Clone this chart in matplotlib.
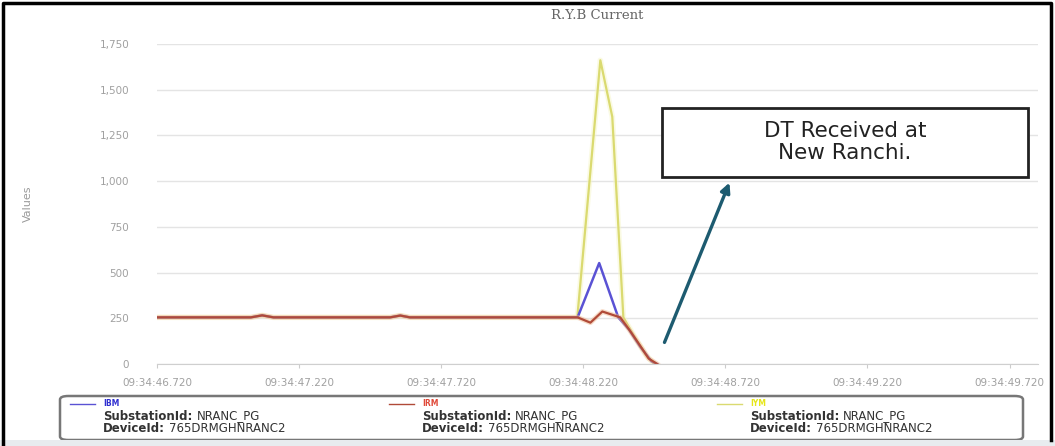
import numpy as np
import matplotlib.pyplot as plt
from matplotlib.lines import Line2D
from matplotlib.patches import FancyBboxPatch, Rectangle
from matplotlib.ticker import FuncFormatter

plt.rcParams['font.family'] = ['DejaVu Sans']

# seconds after 09:34:46.720
t_ibm = [0, 0.33, 0.37, 0.41, 0.82, 0.856, 0.89, 1.48, 1.556, 1.623, 1.66, 1.70, 1.74, 1.76]
v_ibm = [255, 255, 266, 255, 255, 265, 255, 255, 552, 255, 190, 95, 15, 0]

t_irm = [0, 0.33, 0.37, 0.41, 0.82, 0.856, 0.89, 1.48, 1.525, 1.567, 1.63, 1.665, 1.70, 1.73, 1.76]
v_irm = [255, 255, 266, 255, 255, 265, 255, 255, 226, 287, 255, 180, 100, 30, 0]

t_iym = [0, 0.33, 0.37, 0.41, 0.82, 0.856, 0.89, 1.479, 1.560, 1.602, 1.641, 1.68, 1.72, 1.75]
v_iym = [255, 255, 266, 255, 255, 265, 255, 255, 1661, 1352, 255, 150, 50, 0]

tick_pos = [0, 0.5, 1.0, 1.5, 2.0, 2.5, 3.0]
tick_lbl = ['09:34:46.720', '09:34:47.220', '09:34:47.720', '09:34:48.220',
            '09:34:48.720', '09:34:49.220', '09:34:49.720']
y_ticks = [0, 250, 500, 750, 1000, 1250, 1500, 1750]

names = ['IBM', 'IRM', 'IYM']
name_cols = ['#2f2fd0', '#e04a3a', '#e6e619']
line_cols = ['#5a52d4', '#b04a38', '#dada70']
substation = 'NRANC_PG'
device = '765DRMGHNRANC2'

fig = plt.figure(figsize=(10.55, 4.46), dpi=100)
ax = fig.add_axes([157/1055, 1-364/446, (1038-157)/1055, (364-44)/446])

# yellow with a pale halo, then blue, then red on top
ax.plot(t_iym, v_iym, color='#f6f6c8', lw=4, alpha=0.5)
ax.plot(t_iym, v_iym, color=line_cols[2], lw=1.6)
ax.plot(t_ibm, v_ibm, color=line_cols[0], lw=1.8)
ax.plot(t_irm, v_irm, color='#f0b890', lw=3.5, alpha=0.5)
ax.plot(t_irm, v_irm, color=line_cols[1], lw=1.6)

ax.set_xlim(0, 3.10)
ax.set_ylim(0, 1750)
ax.set_xticks(tick_pos)
ax.set_xticklabels(tick_lbl)
ax.set_yticks(y_ticks)
ax.yaxis.set_major_formatter(FuncFormatter(lambda v, p: f'{int(v):,}'))
ax.tick_params(axis='y', length=0, pad=20, labelsize=7.5, labelcolor='#a0a0a0')
ax.tick_params(axis='x', length=3, color='#cccccc', pad=7, labelsize=7.5, labelcolor='#a0a0a0')
ax.grid(axis='y', color='#e4e4e4', lw=1)
ax.set_axisbelow(True)
for s in ['top', 'right', 'left']:
    ax.spines[s].set_visible(False)
ax.spines['bottom'].set_color('#cfcfcf')
ax.set_ylabel('Values', color='#9a9a9a', fontsize=8, labelpad=48)
ax.set_title('R.Y.B Current', color='#666666', fontsize=9.5, pad=18, family='DejaVu Serif')

# annotation
ax.annotate('', xy=(2.018, 1006), xytext=(1.782, 104),
            arrowprops=dict(arrowstyle='-|>', color='#1d5b70', lw=2.4, mutation_scale=14))
fig.patches.append(Rectangle((662/1055, 1-177/446), 366/1055, 69/446, transform=fig.transFigure,
                             fill=True, facecolor='white', edgecolor='#222222', lw=2))
fig.text(845/1055, 1-142/446, 'DT Received at\nNew Ranchi.', ha='center', va='center',
         fontsize=15.5, color='#222222', linespacing=1.1)

# legend box
fig.patches.append(FancyBboxPatch((60/1055, 1-440/446), 963/1055, 44/446,
                                  boxstyle='round,pad=0,rounding_size=0.008',
                                  transform=fig.transFigure, facecolor='white',
                                  edgecolor='#777777', lw=1.8))
renderer = fig.canvas.get_renderer()


def key_value(x0, y, key, value):
    k = fig.text(x0/1055, 1-y/446, key, fontsize=8.5, fontweight='bold',
                 color='#333333', va='center')
    w = k.get_window_extent(renderer).width
    fig.text((x0+w+4)/1055, 1-y/446, value, fontsize=8.5, color='#333333', va='center')


col_x = [103, 422, 750]
for i in range(3):
    x0 = col_x[i]
    fig.lines.append(Line2D([(x0-33)/1055, (x0-8)/1055], [1-404/446]*2,
                            transform=fig.transFigure, color=line_cols[i], lw=1))
    fig.text(x0/1055, 1-404/446, names[i], color=name_cols[i], fontsize=5.5,
             fontweight='bold', va='center')
    key_value(x0, 416, 'SubstationId:', substation)
    key_value(x0, 428, 'DeviceId:', device)

# screenshot frame
fig.patches.append(Rectangle((0, 0), 1, 6/446, transform=fig.transFigure,
                             facecolor='#e8ecef', edgecolor='none'))
fig.lines.append(Line2D([3/1055, 3/1055, 1051/1055, 1051/1055],
                        [0, 1-3/446, 1-3/446, 6/446],
                        transform=fig.transFigure, color='black', lw=2.5))

fig.savefig('out.png', dpi=100)
